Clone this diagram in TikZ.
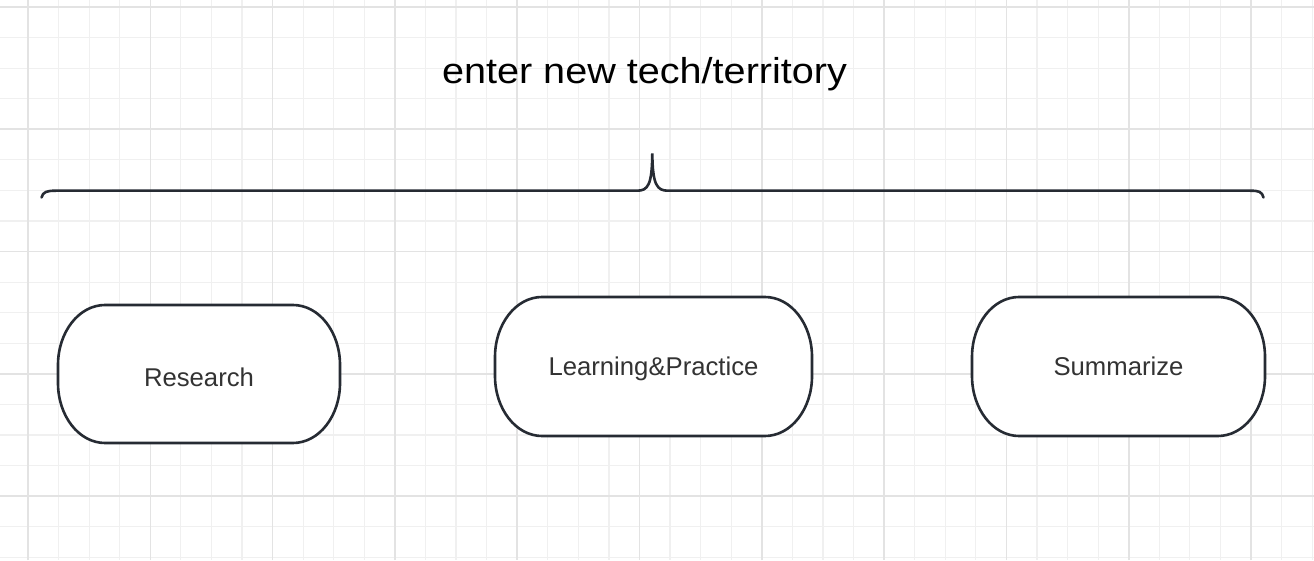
\documentclass[tikz,border=0pt]{standalone}
\usepackage{fontspec}
\setmainfont{Liberation Sans}
\definecolor{gridminor}{HTML}{F0F0F0}
\definecolor{gridmajor}{HTML}{E3E3E3}
\definecolor{ink}{HTML}{262B33}
\definecolor{labeltext}{HTML}{333333}
\tikzset{
  boxline/.style={draw=ink, line width=2.6pt, fill=white},
  pill/.style={draw=none, inner sep=0pt, outer sep=0pt, text=labeltext,
    font=\fontsize{25.7}{30}\selectfont, text height=18.5pt, text depth=0pt},
  bracepath/.style={draw=ink, line width=2.6pt, line cap=round},
}
\newcommand\pillshape[1]{%
  \path[boxline] ([xshift=47pt]#1.north west) -- ([xshift=-47pt]#1.north east)
    arc[start angle=90,end angle=0,x radius=47pt,y radius=60pt]
    -- ([yshift=60pt]#1.south east)
    arc[start angle=0,end angle=-90,x radius=47pt,y radius=60pt]
    -- ([xshift=47pt]#1.south west)
    arc[start angle=270,end angle=180,x radius=47pt,y radius=60pt]
    -- ([yshift=-60pt]#1.north west)
    arc[start angle=180,end angle=90,x radius=47pt,y radius=60pt]
    -- cycle;}
\begin{document}
\begin{tikzpicture}[x=1pt,y=1pt]
\useasboundingbox (0,0) rectangle (1314,560);
\fill[white] (0,0) rectangle (1314,560);
% grid
\foreach \j in {-1,...,42} {\draw[gridminor, line width=1.2pt] ({28+\j*30.575},0) -- ({28+\j*30.575},560);}
\foreach \j in {0,...,18} {\draw[gridminor, line width=1.2pt] (0,{553-\j*30.575}) -- (1314,{553-\j*30.575});}
\foreach \k in {0,...,10} {\draw[gridmajor, line width=1.6pt] ({28+\k*122.3},0) -- ({28+\k*122.3},560);}
\foreach \k in {0,...,4} {\draw[gridmajor, line width=1.6pt] (0,{553-\k*122.3}) -- (1314,{553-\k*122.3});}
% title
\node[font=\fontsize{36}{42}\selectfont, xscale=1.1, text=black, anchor=base] (title) at (644.5,476) {enter new tech/territory};
% brace
\path[bracepath] (41.5,362.5) .. controls (43,368.3) and (47,369.3) .. (56,369.3)
  -- (637,369.3) .. controls (648,369.3) and (652,375) .. (652.3,406.5)
  .. controls (652.6,375) and (657,369.3) .. (668,369.3)
  -- (1250,369.3) .. controls (1259,369.3) and (1262,368.3) .. (1263.5,362.5);
% boxes
\node[pill, minimum width=282pt, minimum height=138pt] (research) at (199,186) {};
\node[pill, minimum width=317pt, minimum height=139pt] (learning) at (653.5,193.5) {};
\node[pill, minimum width=293pt, minimum height=139pt] (summarize) at (1118.5,193.5) {};
\pillshape{research}
\pillshape{learning}
\pillshape{summarize}
\node[pill, text height=25.4pt] (researchtxt) at (research.center) {Research};
\node[pill] (learningtxt) at (learning.center) {Learning\&Practice};
\node[pill] (summarizetxt) at (summarize.center) {Summarize};
\end{tikzpicture}
\end{document}
